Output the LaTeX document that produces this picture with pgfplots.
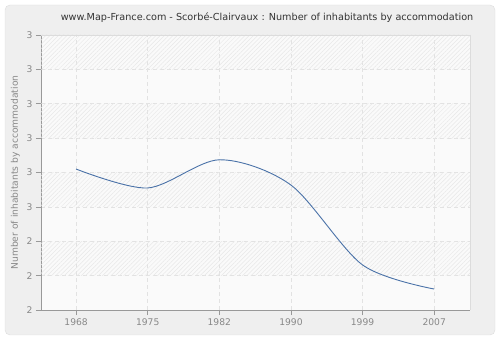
\documentclass[border=0pt]{standalone}
\usepackage{pgfplots}
\pgfplotsset{compat=1.18}
\usepackage{fontspec}
\setmainfont{DejaVu Sans}
\usetikzlibrary{patterns.meta}
\definecolor{outerbg}{HTML}{EFEFEF}
\definecolor{bordc}{HTML}{DCDCDC}
\definecolor{plotbg}{HTML}{FAFAFA}
\definecolor{hatchc}{HTML}{E8E8E8}
\definecolor{gridc}{HTML}{E2E2E2}
\definecolor{axisc}{HTML}{999999}
\definecolor{tickc}{HTML}{888888}
\definecolor{titlec}{HTML}{333333}
\definecolor{linec}{HTML}{4A72A8}
\begin{document}
\begin{tikzpicture}
\path (0bp,0bp) rectangle (500bp,340bp);
\fill[outerbg, draw=bordc, rounded corners=5bp] (5bp,5bp) rectangle (495bp,335bp);
\node[font=\fontsize{9.7}{11}\selectfont, text=titlec] at (267bp,322bp) {www.Map-France.com - Scorbé-Clairvaux : Number of inhabitants by accommodation};
\begin{axis}[
  at={(41bp,30bp)}, anchor=south west,
  scale only axis, width=429bp, height=275bp,
  xmin=-0.49, xmax=5.5, ymin=2, ymax=3.6,
  axis x line=bottom, axis y line=left,
  axis line style={-, draw=axisc, line width=0.8bp},
  xtick={0,1,2,3,4,5},
  xticklabels={1968,1975,1982,1990,1999,2007},
  ytick={2,2.2,2.4,2.6,2.8,3.0,3.2,3.4,3.6},
  yticklabels={2,2,2,3,3,3,3,3,3},
  tick align=outside, major tick length=5bp,
  tick style={draw=axisc, line width=0.6bp},
  ticklabel style={font=\fontsize{9.2}{10}\selectfont, text=tickc},
  grid=major,
  major grid style={draw=gridc, line width=0.6bp, dash pattern=on 4bp off 3bp},
  axis background/.style={fill=plotbg},
  ylabel={Number of inhabitants by accommodation},
  ylabel style={font=\fontsize{9.2}{10}\selectfont, text=tickc},
  clip=false,
]
\pgfplotsinvokeforeach{2.2,2.6,3.0,3.4}{
  \fill[pattern={Lines[angle=45,distance=3bp,line width=0.5bp]}, pattern color=hatchc]
    (axis cs:-0.49,#1) rectangle (axis cs:5.5,#1+0.2);
}
\draw[bordc, line width=0.8bp] (rel axis cs:0,1) -- (rel axis cs:1,1) -- (rel axis cs:1,0);
\addplot[linec, line width=0.9bp, smooth, mark=none] coordinates {
  (0,2.820) (1,2.710) (2,2.874) (3,2.727) (4,2.262) (5,2.122)
};
\end{axis}
\end{tikzpicture}
\end{document}
